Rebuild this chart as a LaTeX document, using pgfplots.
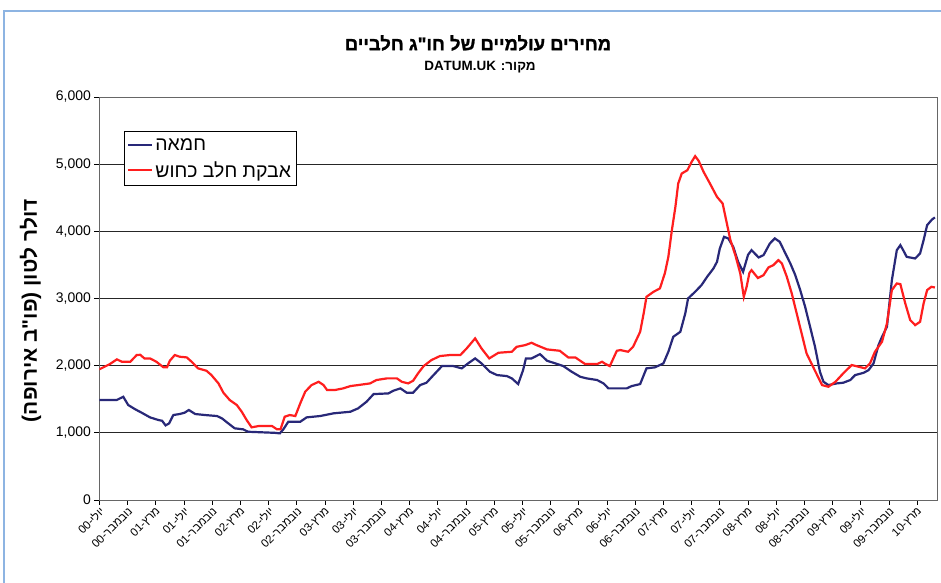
\documentclass[border=0pt]{standalone}
\usepackage{fontspec}
\setmainfont{Liberation Sans}
\newfontfamily\heb[Script=Hebrew]{Liberation Sans}
\newfontfamily\hebt[Script=Hebrew, BoldFeatures={FakeBold=1.2}]{Liberation Sans}
\TeXXeTstate=1
\usepackage{pgfplots}
\pgfplotsset{compat=1.18}
\definecolor{butter}{RGB}{40,40,120}
\definecolor{milk}{RGB}{255,30,30}
\definecolor{framec}{RGB}{141,180,226}
\newcommand\tl[2]{#1-\kern0pt{\heb #2}}

\begin{document}
\begin{tikzpicture}
\useasboundingbox (0,0) rectangle (941bp,583bp);
\fill[white] (0,0) rectangle (941bp,583bp);
\draw[framec, line width=2bp] (4bp,0) -- (4bp,572bp) -- (941bp,572bp);
\node[font=\hebt\fontsize{18.5}{21}\selectfont\bfseries] at (478bp,540bp) {\beginR מחירים עולמיים של חו"ג חלביים\endR};
\node[font=\heb\fontsize{13.5}{16}\selectfont\bfseries] at (480bp,516bp) {\beginR מקור: \beginL DATUM.UK\endL\endR};
\begin{axis}[
  at={(99.3bp,83bp)}, anchor=south west,
  scale only axis, width=837.7bp, height=403bp,
  xmin=0, xmax=118.8, ymin=0, ymax=6000,
  xtick={0,4,...,116},
  xticklabels={{\tl{00}{יולי}},{\tl{00}{נובמבר}},{\tl{01}{מרץ}},{\tl{01}{יולי}},{\tl{01}{נובמבר}},{\tl{02}{מרץ}},{\tl{02}{יולי}},{\tl{02}{נובמבר}},{\tl{03}{מרץ}},{\tl{03}{יולי}},{\tl{03}{נובמבר}},{\tl{04}{מרץ}},{\tl{04}{יולי}},{\tl{04}{נובמבר}},{\tl{05}{מרץ}},{\tl{05}{יולי}},{\tl{05}{נובמבר}},{\tl{06}{מרץ}},{\tl{06}{יולי}},{\tl{06}{נובמבר}},{\tl{07}{מרץ}},{\tl{07}{יולי}},{\tl{07}{נובמבר}},{\tl{08}{מרץ}},{\tl{08}{יולי}},{\tl{08}{נובמבר}},{\tl{09}{מרץ}},{\tl{09}{יולי}},{\tl{09}{נובמבר}},{\tl{10}{מרץ}}},
  xticklabel style={rotate=45, anchor=east, font=\fontsize{11.5}{13}\selectfont, inner sep=1bp, yshift=-5bp},
  ytick={0,1000,...,6000},
  yticklabel style={font=\fontsize{14}{16}\selectfont},
  /pgf/number format/.cd, 1000 sep={,}, assume math mode=true, /pgfplots/.cd,
  scaled y ticks=false,
  tick pos=left, tick align=outside, major tick length=5bp,
  tick style={black, line width=0.8bp},
  ymajorgrids, grid style={black!85, line width=0.8bp},
  axis line style={black!60, line width=0.8bp},
  ylabel={\beginR דולר לטון (פו"ב אירופה)\endR},
  ylabel style={at={(axis description cs:-0.082,0.47)}, anchor=center, font=\heb\fontsize{21}{24}\selectfont\bfseries},
  legend style={at={(axis description cs:0.0295,0.916)}, anchor=north west, draw=black, line width=0.8bp, fill=white,
    font=\heb\fontsize{19.5}{22}\selectfont, inner xsep=3bp, inner ysep=5bp, row sep=6bp},
  legend cell align=left,
  legend image code/.code={\draw[#1, line width=2bp] (0bp,0bp) -- (24bp,0bp);},
]
\addplot[butter, line width=2.2bp] coordinates {
(0,1490)(2.5,1490)(3.4,1537)(4.1,1414)(5.1,1350)(6.0,1300)(7.2,1230)(8.4,1190)(8.9,1180)(9.4,1111)(9.9,1140)(10.5,1265)(11.4,1280)(12.1,1300)(12.7,1340)(13.6,1280)(15.0,1265)(16.7,1250)(17.4,1215)(18.3,1140)(19.2,1067)(20.4,1052)(21.1,1016)(24.9,1000)(25.6,992)(26.1,1052)(26.8,1165)(28.5,1165)(29.4,1230)(31.3,1250)(33.2,1290)(35.6,1314)(36.7,1364)(37.9,1463)(38.9,1577)(41.0,1587)(41.7,1627)(42.7,1662)(43.6,1597)(44.5,1597)(45.5,1711)(46.4,1746)(47.4,1860)(48.6,1994)(50.2,1994)(51.4,1960)(52.3,2034)(53.3,2108)(54.2,2034)(55.4,1909)(56.4,1860)(57.8,1845)(58.5,1811)(59.4,1726)(60.1,1934)(60.5,2108)(61.3,2108)(62.5,2172)(63.5,2073)(64.4,2043)(65.8,1994)(67.0,1909)(68.2,1835)(69.1,1811)(70.6,1786)(71.5,1736)(72.2,1662)(74.8,1662)(75.5,1696)(76.7,1726)(77.6,1960)(78.8,1975)(80.0,2034)(80.7,2207)(81.4,2430)(82.4,2504)(83.1,2778)(83.5,3001)(84.5,3100)(85.4,3199)(86.2,3323)(87.1,3448)(87.6,3546)(88.0,3745)(88.6,3918)(89.2,3894)(89.9,3769)(90.6,3546)(91.3,3397)(92.0,3650)(92.5,3720)(93.5,3611)(94.2,3646)(95.1,3820)(95.8,3894)(96.5,3844)(97.3,3671)(98.0,3522)(98.7,3348)(99.4,3125)(100.1,2876)(100.8,2579)(101.5,2281)(102.2,1909)(102.7,1760)(103.4,1711)(104.6,1736)(105.5,1746)(106.5,1786)(107.2,1860)(108.4,1894)(109.1,1934)(109.8,2034)(110.5,2306)(111.0,2430)(111.7,2579)(112.4,3274)(113.1,3720)(113.6,3794)(114.0,3720)(114.5,3620)(115.7,3596)(116.4,3671)(116.9,3869)(117.4,4092)(118.1,4177)(118.5,4207)
};
\addlegendentry{חמאה}
\addplot[milk, line width=2.2bp] coordinates {
(0,1945)(1.5,2024)(2.5,2094)(3.2,2058)(4.4,2058)(5.3,2158)(5.8,2162)(6.4,2108)(7.2,2108)(8.1,2058)(9.1,1975)(9.6,1975)(10.0,2073)(10.7,2158)(11.4,2133)(12.4,2123)(13.1,2058)(14.0,1960)(15.2,1924)(15.9,1860)(16.9,1736)(17.6,1597)(18.5,1488)(19.5,1414)(20.2,1314)(20.9,1190)(21.6,1082)(22.6,1101)(24.5,1101)(25.2,1052)(25.7,1052)(26.3,1240)(27.0,1265)(27.8,1250)(28.5,1439)(29.2,1612)(30.1,1711)(31.1,1760)(31.8,1711)(32.3,1637)(33.4,1637)(34.6,1662)(35.6,1696)(36.7,1711)(38.4,1736)(39.3,1786)(40.8,1811)(42.2,1811)(42.9,1760)(43.8,1736)(44.5,1775)(45.2,1885)(46.0,1994)(47.1,2083)(48.3,2143)(49.7,2158)(51.2,2158)(52.1,2257)(53.3,2406)(54.2,2257)(55.3,2108)(56.6,2192)(58.5,2207)(59.2,2281)(60.4,2306)(61.3,2341)(62.0,2306)(63.5,2242)(65.3,2222)(66.5,2123)(67.5,2123)(68.9,2024)(70.6,2024)(71.3,2058)(71.7,2030)(72.4,1994)(73.4,2222)(73.9,2232)(75.0,2207)(75.7,2281)(76.7,2504)(77.2,2778)(77.6,3025)(78.6,3100)(79.5,3150)(80.2,3373)(80.7,3620)(81.2,4018)(81.7,4364)(82.1,4712)(82.6,4861)(83.4,4910)(84.0,5034)(84.5,5119)(85.0,5049)(85.7,4885)(86.6,4712)(87.6,4513)(88.4,4414)(88.9,4166)(89.5,3869)(90.2,3646)(90.9,3373)(91.4,3025)(91.8,3174)(92.2,3382)(92.5,3422)(93.4,3305)(94.2,3348)(94.9,3463)(95.6,3497)(96.3,3571)(96.8,3522)(97.5,3323)(98.2,3076)(98.9,2778)(99.6,2480)(100.3,2183)(101.1,2009)(101.8,1860)(102.5,1711)(103.4,1686)(104.4,1760)(105.5,1885)(106.7,2009)(107.7,1984)(108.6,1960)(109.3,2034)(110.0,2207)(111.0,2356)(111.7,2629)(112.4,3125)(113.1,3224)(113.6,3214)(114.3,2927)(115.0,2678)(115.7,2604)(116.4,2653)(116.9,2927)(117.4,3125)(118.0,3174)(118.5,3164)
};
\addlegendentry{\beginR אבקת חלב כחוש\endR}
\end{axis}
\end{tikzpicture}
\end{document}
